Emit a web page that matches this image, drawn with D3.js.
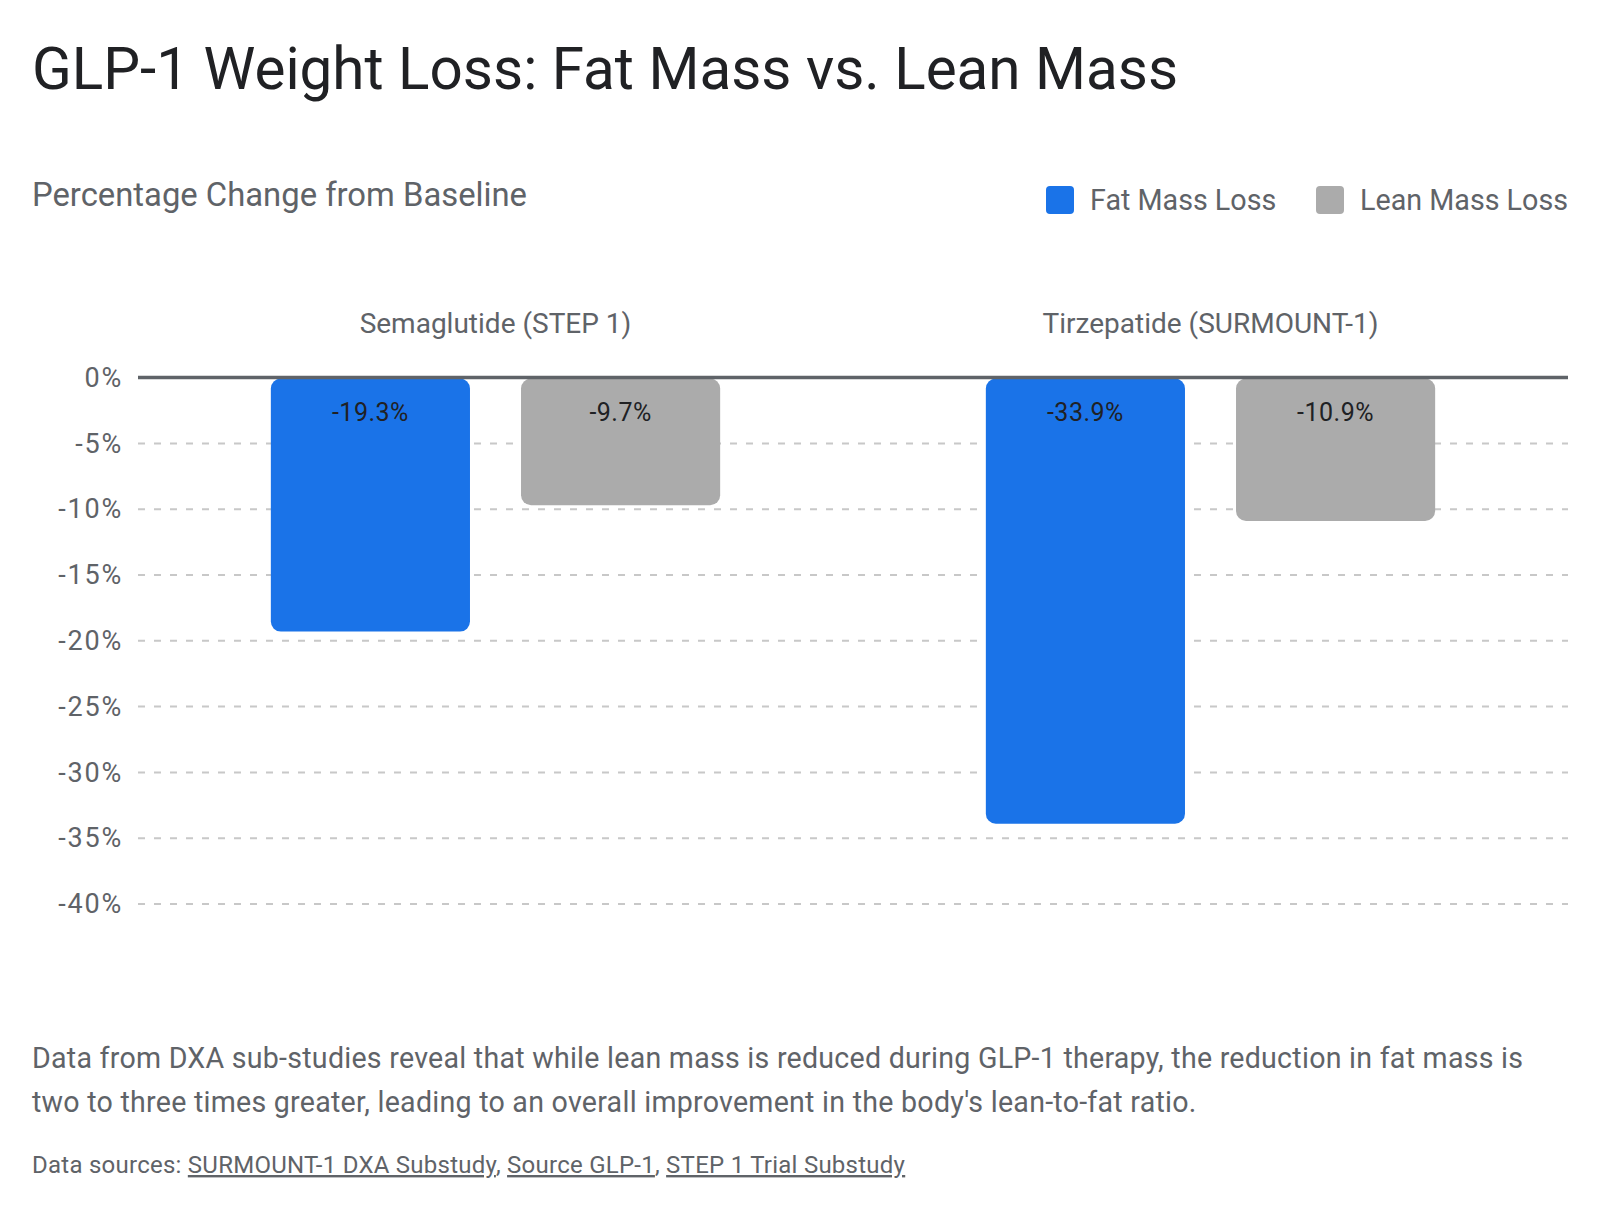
<!DOCTYPE html>
<html>
<head>
<meta charset="utf-8">
<script src="https://cdn.jsdelivr.net/npm/d3@7"></script>
<style>
  html, body { margin: 0; padding: 0; background: #fff; }
  svg { display: block; font-family: Roboto, "Noto Sans", sans-serif; }
</style>
</head>
<body>
<svg id="chart" width="1600" height="1214"></svg>
<script>
const groups = ["Semaglutide (STEP 1)", "Tirzepatide (SURMOUNT-1)"];
const seriesNames = ["Fat Mass Loss", "Lean Mass Loss"];
const fatMassLoss = [-19.3, -33.9];
const leanMassLoss = [-9.7, -10.9];
const yTicks = [0, -5, -10, -15, -20, -25, -30, -35, -40];
const seriesColors = ["#1a73e8", "#ababab"];

const title = "GLP-1 Weight Loss: Fat Mass vs. Lean Mass";
const subtitle = "Percentage Change from Baseline";
const description = [
  "Data from DXA sub-studies reveal that while lean mass is reduced during GLP-1 therapy, the reduction in fat mass is",
  "two to three times greater, leading to an overall improvement in the body's lean-to-fat ratio."
];
const sourceLinks = ["SURMOUNT-1 DXA Substudy", "Source GLP-1", "STEP 1 Trial Substudy"];

const data = groups.map((g, i) => ({
  group: g,
  values: [
    { series: seriesNames[0], value: fatMassLoss[i], color: seriesColors[0] },
    { series: seriesNames[1], value: leanMassLoss[i], color: seriesColors[1] }
  ]
}));

(function () {
const svg = d3.select("#chart");
const plotL = 138, plotR = 1568, plotT = 377.6, plotB = 904;

const y = d3.scaleLinear().domain([0, -40]).range([plotT, plotB]);
const x0 = d3.scaleBand().domain(groups).range([plotL, plotR]).padding(0);
const x1 = d3.scaleBand().domain(seriesNames).range([0, x0.bandwidth()])
  .paddingInner(0.204).paddingOuter(0.531);

// Title
svg.append("text").attr("x", 32).attr("y", 89)
  .attr("font-size", 58.4).attr("fill", "#202124").text(title);

// Subtitle
svg.append("text").attr("x", 32).attr("y", 206)
  .attr("font-size", 32.8).attr("fill", "#5f6368").text(subtitle);

// Legend
const legendX = [1046, 1316];
const legend = svg.append("g");
seriesNames.forEach((s, i) => {
  legend.append("rect").attr("x", legendX[i]).attr("y", 186)
    .attr("width", 28).attr("height", 28).attr("rx", 4)
    .attr("fill", seriesColors[i]);
  legend.append("text").attr("x", legendX[i] + 44).attr("y", 210)
    .attr("font-size", 28.7).attr("fill", "#5f6368").text(s);
});

// Grid lines
const grid = svg.append("g");
grid.selectAll("line").data(yTicks.filter(t => t !== 0)).join("line")
  .attr("x1", plotL).attr("x2", plotR)
  .attr("y1", d => y(d)).attr("y2", d => y(d))
  .attr("stroke", "#c8c8c8").attr("stroke-width", 2)
  .attr("stroke-dasharray", "7,9");

// Y axis labels
const yAxis = d3.axisLeft(y).tickValues(yTicks).tickSize(0).tickPadding(0)
  .tickFormat(d => d + "%");
const ya = svg.append("g").attr("transform", `translate(${plotL - 15},0)`).call(yAxis);
ya.select(".domain").remove();
ya.selectAll("text").attr("font-size", 27).attr("letter-spacing", 1.8)
  .attr("fill", "#5f6368").attr("font-family", "Roboto, sans-serif");

// Group labels
svg.append("g").selectAll("text").data(groups).join("text")
  .attr("x", d => x0(d) + x0.bandwidth() / 2).attr("y", 333)
  .attr("text-anchor", "middle").attr("font-size", 28).attr("fill", "#5f6368")
  .text(d => d);

// Bars
const gGroups = svg.append("g").selectAll("g").data(data).join("g")
  .attr("transform", d => `translate(${x0(d.group)},0)`);

gGroups.selectAll("rect").data(d => d.values).join("rect")
  .attr("x", d => x1(d.series))
  .attr("y", y(0) + 1)
  .attr("width", x1.bandwidth())
  .attr("height", d => y(d.value) - y(0) - 1)
  .attr("rx", 10)
  .attr("fill", d => d.color);

gGroups.selectAll("text").data(d => d.values).join("text")
  .attr("x", d => x1(d.series) + x1.bandwidth() / 2)
  .attr("y", y(0) + 43)
  .attr("text-anchor", "middle").attr("font-size", 25).attr("letter-spacing", 0.5)
  .attr("fill", "#202124")
  .text(d => d.value.toFixed(1) + "%");

// Zero line
svg.append("line").attr("x1", plotL).attr("x2", plotR)
  .attr("y1", y(0)).attr("y2", y(0))
  .attr("stroke", "#5f6368").attr("stroke-width", 3.5);

// Description
svg.append("g").selectAll("text").data(description).join("text")
  .attr("x", 32).attr("y", (d, i) => 1068 + i * 44)
  .attr("font-size", 28.6).attr("letter-spacing", 0.25)
  .attr("fill", "#5f6368").text(d => d);

// Sources
const src = svg.append("text").attr("x", 32).attr("y", 1173)
  .attr("font-size", 24).attr("letter-spacing", 0.25).attr("fill", "#5f6368");
src.append("tspan").text("Data sources: ");
sourceLinks.forEach((s, i) => {
  src.append("tspan").attr("text-decoration", "underline").text(s);
  if (i < sourceLinks.length - 1) src.append("tspan").text(", ");
});
})();
</script>
</body>
</html>
